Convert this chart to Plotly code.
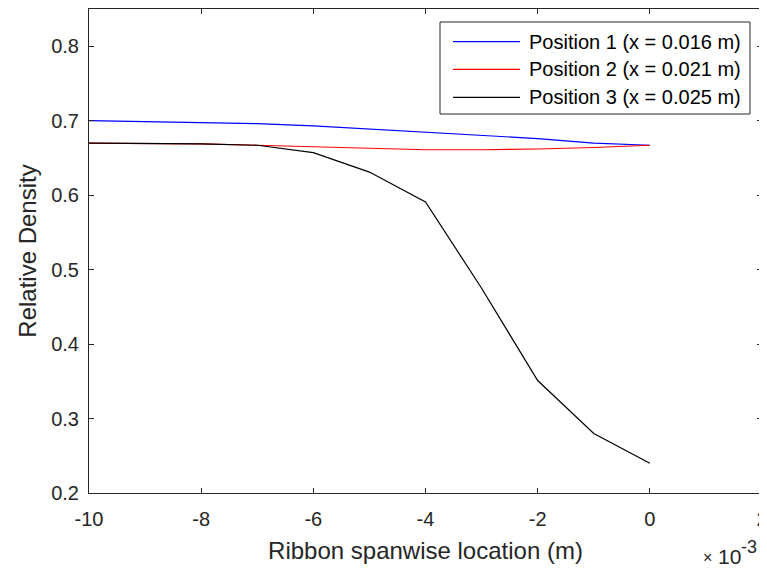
import plotly.graph_objects as go

x_mm = [-10, -9, -8, -7, -6, -5, -4, -3, -2, -1, 0]
x_vals = [v * 1e-3 for v in x_mm]
pos1 = [0.700, 0.699, 0.698, 0.696, 0.693, 0.689, 0.685, 0.681, 0.676, 0.670, 0.667]
pos2 = [0.670, 0.670, 0.669, 0.667, 0.665, 0.663, 0.661, 0.661, 0.662, 0.664, 0.667]
pos3 = [0.670, 0.670, 0.669, 0.667, 0.657, 0.631, 0.591, 0.475, 0.351, 0.280, 0.240]

names = ["Position 1 (x = 0.016 m)", "Position 2 (x = 0.021 m)", "Position 3 (x = 0.025 m)"]
colors = ["#0000ff", "#ff0000", "#000000"]
x_ticks = [-10, -8, -6, -4, -2, 0, 2]
y_ticks = [0.2, 0.3, 0.4, 0.5, 0.6, 0.7, 0.8]

# figure geometry (page body has an 8px margin)
W, H = 759, 563
L, R, T, B = 81, 5, 1, 78
PW, PH = W - L - R, H - T - B


def px(fx):
    return (fx - L) / PW


def py(fy):
    return (H - B - fy) / PH


fig = go.Figure()
for ys, nm, c in zip([pos1, pos2, pos3], names, colors):
    fig.add_trace(go.Scatter(x=x_vals, y=ys, mode="lines", name=nm,
                             line=dict(color=c, width=1.2), showlegend=False))

axcol = "#262626"
fig.update_layout(
    width=W, height=H,
    margin=dict(l=L, r=R, t=T, b=B, autoexpand=False),
    plot_bgcolor="white", paper_bgcolor="white",
    font=dict(family="Liberation Sans, Arial, sans-serif", color=axcol, size=20),
    showlegend=False,
    xaxis=dict(range=[-0.010, 0.002], tickvals=[v * 1e-3 for v in x_ticks],
               ticktext=[str(v) for v in x_ticks], automargin=False,
               showline=True, linecolor=axcol, linewidth=1, mirror="ticks",
               ticks="inside", ticklen=5, tickcolor=axcol, showgrid=False, zeroline=False,
               ticklabelstandoff=8, ticklabeloverflow="allow",
               title=dict(text="Ribbon spanwise location (m)", font=dict(size=24), standoff=13),
               tickfont=dict(size=20)),
    yaxis=dict(range=[0.2, 0.85], tickvals=y_ticks,
               ticktext=[f"{v:.1f}" for v in y_ticks], automargin=False,
               showline=True, linecolor=axcol, linewidth=1, mirror="ticks",
               ticks="inside", ticklen=5, tickcolor=axcol, showgrid=False, zeroline=False,
               ticklabelstandoff=5, ticklabeloverflow="allow",
               title=dict(text="Relative Density", font=dict(size=24), standoff=7),
               tickfont=dict(size=20)),
)

# legend box drawn manually (MATLAB style)
bx0, bx1, by0, by1 = 432, 742, 14, 106
fig.add_shape(type="rect", xref="paper", yref="paper",
              x0=px(bx0), x1=px(bx1), y0=py(by1), y1=py(by0),
              line=dict(color=axcol, width=1), fillcolor="white", layer="above")
rows = [33.7, 61.3, 89.3]
for ry, nm, c in zip(rows, names, colors):
    fig.add_shape(type="line", xref="paper", yref="paper",
                  x0=px(445), x1=px(512), y0=py(ry), y1=py(ry),
                  line=dict(color=c, width=1.2), layer="above")
    fig.add_annotation(text=nm, xref="paper", yref="paper",
                       x=px(519), y=py(ry), xanchor="left", yanchor="middle",
                       showarrow=False, font=dict(size=20, color="#000000"))

# exponent label (×10^-3) MATLAB style
for txt, cx, cy, sz in [("×", 699, 549, 16), ("10", 721, 548, 21), ("-3", 741, 539, 18)]:
    fig.add_annotation(text=txt, xref="paper", yref="paper",
                       x=px(cx), y=py(cy), xanchor="center", yanchor="middle",
                       showarrow=False, font=dict(size=sz, color=axcol))
fig.write_html("out.html")
